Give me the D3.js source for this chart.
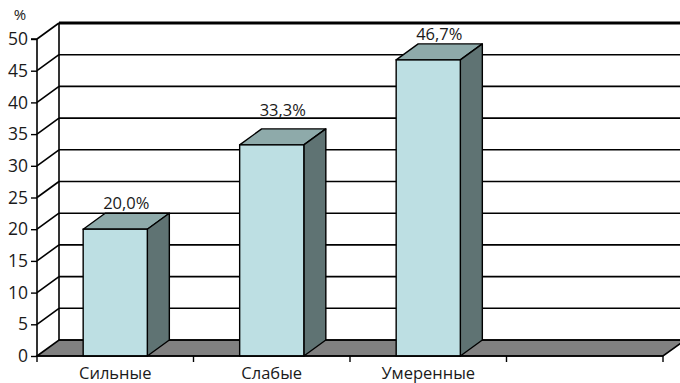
<!DOCTYPE html>
<html>
<head>
<meta charset="utf-8">
<script src="https://cdn.jsdelivr.net/npm/d3@7"></script>
<style>
  html, body { margin: 0; padding: 0; background: #fff; }
  svg { display: block; font-family: "Open Sans", "DejaVu Sans", sans-serif; }
</style>
</head>
<body>
<svg id="chart" width="680" height="383"></svg>
<script>
// Chart data
const categories = ["Сильные", "Слабые", "Умеренные", ""];
const values = [20.0, 33.3, 46.7];
const valueLabels = ["20,0%", "33,3%", "46,7%"];
const yTicks = [0, 5, 10, 15, 20, 25, 30, 35, 40, 45, 50];

const svg = d3.select("#chart");

// Front plane geometry and 3D depth offset
const depthX = 22, depthY = -16;
const x = d3.scaleBand().domain(categories).range([37, 663]).padding(0);
const y = d3.scaleLinear().domain([0, 50]).range([356, 39]);
const barW = x.bandwidth() * 0.41;

const colFront = "#bddfe3", colTop = "#8eaaaa", colSide = "#5f7373", colFloor = "#808080";
const textCol = "#1a1a1a";

// Back wall gridlines
const wallRight = 700;
const gridY = yTicks.slice(1).map(d => y(d) + depthY);
svg.append("g").selectAll("line").data(yTicks.slice(1)).join("line")
  .attr("x1", x.range()[0] + depthX).attr("x2", wallRight)
  .attr("y1", d => y(d) + depthY).attr("y2", d => y(d) + depthY)
  .attr("stroke", "#000").attr("stroke-width", d => d === 50 ? 3 : 1.6);

// Side wall diagonals from axis to back wall
svg.append("g").selectAll("line").data(yTicks.slice(1)).join("line")
  .attr("x1", x.range()[0]).attr("y1", d => y(d))
  .attr("x2", x.range()[0] + depthX).attr("y2", d => y(d) + depthY)
  .attr("stroke", "#000").attr("stroke-width", 1.6);

// Back wall left edge
svg.append("line")
  .attr("x1", x.range()[0] + depthX).attr("x2", x.range()[0] + depthX)
  .attr("y1", y(50) + depthY).attr("y2", y(0) + depthY)
  .attr("stroke", "#000").attr("stroke-width", 1.6);

// Floor
const x0 = x.range()[0], x1 = x.range()[1], y0 = y(0);
svg.append("path")
  .attr("d", `M${x0},${y0} L${x0 + depthX},${y0 + depthY} L${wallRight},${y0 + depthY} L${x1 + depthX},${y0 + depthY} L${x1},${y0} Z`)
  .attr("fill", colFloor).attr("stroke", "#000").attr("stroke-width", 1.6);
svg.append("line").attr("x1", x0 + depthX).attr("x2", wallRight)
  .attr("y1", y0 + depthY).attr("y2", y0 + depthY)
  .attr("stroke", "#000").attr("stroke-width", 1.6);

// Label baseline above the bar top, nudged up if a gridline would cross the text
const labelH = 13;
function labelBaseline(topBack) {
  let base = topBack - 4;
  const hit = gridY.find(g => g > base - labelH - 1 && g < base + 2);
  if (hit !== undefined) base = hit - 2;
  return base;
}

// Bars
const bars = svg.append("g").selectAll("g").data(values).join("g");
bars.each(function(v, i) {
  const g = d3.select(this);
  const cx = x(categories[i]) + x.bandwidth() / 2;
  const l = cx - barW / 2, r = cx + barW / 2;
  const t = y(v), b = y(0);
  // top face
  g.append("path")
    .attr("d", `M${l},${t} L${l + depthX},${t + depthY} L${r + depthX},${t + depthY} L${r},${t} Z`)
    .attr("fill", colTop).attr("stroke", "#000").attr("stroke-width", 1.4).attr("stroke-linejoin", "round");
  // side face
  g.append("path")
    .attr("d", `M${r},${t} L${r + depthX},${t + depthY} L${r + depthX},${b + depthY} L${r},${b} Z`)
    .attr("fill", colSide).attr("stroke", "#000").attr("stroke-width", 1.4).attr("stroke-linejoin", "round");
  // front face
  g.append("rect")
    .attr("x", l).attr("y", t).attr("width", barW).attr("height", b - t)
    .attr("fill", colFront).attr("stroke", "#000").attr("stroke-width", 1.4);
  // value label
  g.append("text")
    .attr("x", cx + depthX / 2).attr("y", labelBaseline(t + depthY))
    .attr("text-anchor", "middle").attr("font-size", 16.5).attr("fill", textCol)
    .text(valueLabels[i]);
});

// Y axis
const yAxis = d3.axisLeft(y).tickValues(yTicks).tickSize(6).tickPadding(3);
const gy = svg.append("g").attr("transform", `translate(${x0},0)`).call(yAxis);
gy.attr("font-family", null).attr("font-size", null);
gy.select(".domain").attr("stroke-width", 1.6).attr("d", `M-6,${y(50)}H0V${y(0)}`);
gy.selectAll(".tick line").attr("stroke-width", 1.4);
gy.selectAll(".tick text").attr("font-size", 17.5).attr("fill", textCol);

// X axis
const xTickPos = [x0].concat(categories.map(c => x(c) + x.bandwidth()));
svg.append("g").selectAll("line").data(xTickPos).join("line")
  .attr("x1", d => d).attr("x2", d => d).attr("y1", y0).attr("y2", y0 + 6)
  .attr("stroke", "#000").attr("stroke-width", 1.4);
svg.append("line").attr("x1", x0).attr("x2", x1).attr("y1", y0).attr("y2", y0)
  .attr("stroke", "#000").attr("stroke-width", 1.6);
svg.append("g").selectAll("text").data(categories.filter(c => c)).join("text")
  .attr("x", d => x(d) + x.bandwidth() / 2).attr("y", 379)
  .attr("text-anchor", "middle").attr("font-size", 16.5).attr("fill", textCol)
  .text(d => d);

// Unit label
svg.append("text").attr("x", 20).attr("y", 20).attr("text-anchor", "middle")
  .attr("font-size", 15).attr("fill", textCol).text("%");
</script>
</body>
</html>
